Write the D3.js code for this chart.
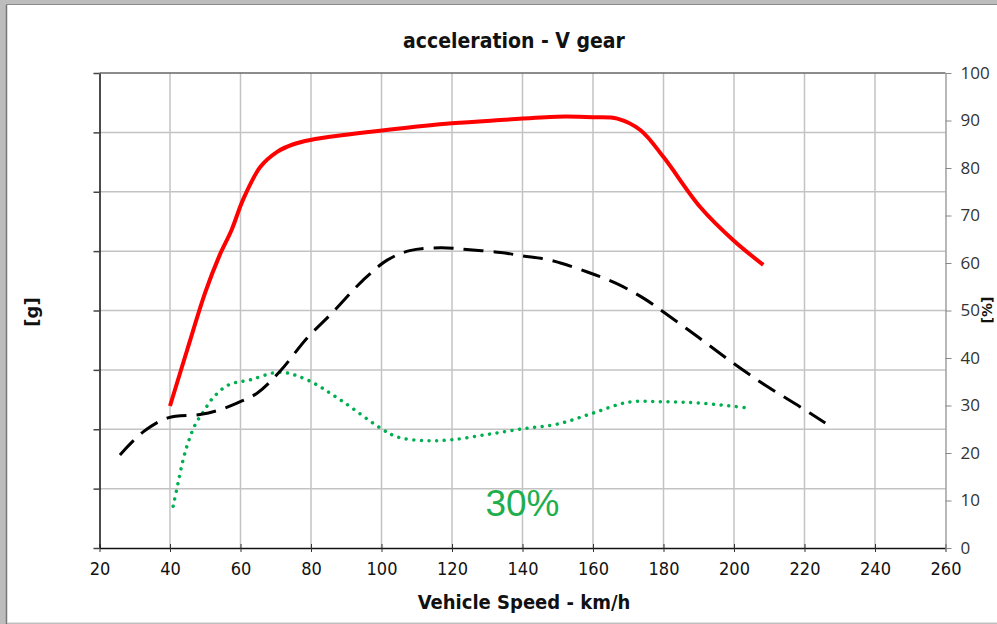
<!DOCTYPE html>
<html>
<head>
<meta charset="utf-8">
<script src="https://cdn.jsdelivr.net/npm/d3@7"></script>
<style>
  html, body { margin: 0; padding: 0; background: #b9b9b9; }
  #wrapper { width: 997px; height: 624px; }
  .narrow { font-family: "Liberation Sans Narrow", "DejaVu Sans Condensed", sans-serif; }
</style>
</head>
<body>
<div id="wrapper"></div>
<script>
// speed [km/h] vs. value on the right axis [%]
const fullLoad = [
  [40, 29.9], [45, 42], [50, 53.8], [54, 61.5], [57.5, 67], [60.7, 73.3], [65.6, 80.2],
  [70.4, 83.4], [75, 85], [79.8, 85.9], [90, 87], [102.5, 88.1], [120, 89.4],
  [133.8, 90.1], [149.9, 90.8], [160, 90.7], [166.9, 90.4], [173.4, 88.0],
  [180, 82.3], [190.4, 71.8], [199.8, 64.8], [208.3, 59.6]
]
const blackSeries = [
  [25.8, 19.6], [32.3, 24.4], [39.4, 27.4], [48.5, 28.1], [53.3, 28.9], [59, 30.5],
  [64.7, 32.6], [71.2, 37.2], [78.9, 44.2], [86, 49.5], [94.8, 56.4], [101.6, 60.6],
  [108, 62.6], [116.7, 63.2], [125, 62.8], [133.8, 62.2], [140, 61.5], [147.9, 60.6],
  [158.4, 58.1], [166.9, 55.6], [174.3, 52.6], [180, 49.7], [190, 44.3],
  [199.8, 38.9], [209, 34.2], [218.8, 29.7], [225.9, 26.3]
]
const greenSeries = [
  [40.9, 8.8], [42.3, 13.7], [43.7, 18.5], [45.1, 22.1], [47.1, 25.9], [49.4, 28.6],
  [52.2, 31.6], [56.5, 34.3], [62.7, 35.4], [71.2, 37.0], [78.9, 35.4], [88.3, 31.2],
  [99.6, 25.3], [104.4, 23.4], [112, 22.6], [120, 22.8], [130, 23.9], [140, 25.1],
  [150, 26.1], [160, 28.4], [170, 30.7], [180, 30.8], [190.5, 30.5], [203.8, 29.5]
]
const xTicks = [20, 40, 60, 80, 100, 120, 140, 160, 180, 200, 220, 240, 260]
const pctTicks = [0, 10, 20, 30, 40, 50, 60, 70, 80, 90, 100]
const gTicks = [0, 1, 2, 3, 4, 5, 6, 7, 8]   // left axis, labels not shown

const title = "acceleration - V gear"
const xLabel = "Vehicle Speed - km/h"
const yLabelLeft = "[g]"
const yLabelRight = "[%]"
const note = "30%"

const dimensions = {
  width: 997,
  height: 624,
  margin: { top: 73, right: 51.5, bottom: 76, left: 99.5 },
}
dimensions.boundedWidth = dimensions.width - dimensions.margin.left - dimensions.margin.right
dimensions.boundedHeight = dimensions.height - dimensions.margin.top - dimensions.margin.bottom

const wrapper = d3.select("#wrapper")
  .append("svg")
  .attr("width", dimensions.width)
  .attr("height", dimensions.height)

// frame
wrapper.append("rect").attr("x", 0).attr("y", 0).attr("width", 997).attr("height", 624).attr("fill", "#bdbdbd")
wrapper.append("rect").attr("x", 6).attr("y", 5).attr("width", 991).attr("height", 617).attr("fill", "white")
wrapper.append("line").attr("x1", 6.5).attr("x2", 6.5).attr("y1", 5).attr("y2", 624).attr("stroke", "#777").attr("stroke-width", 1.5)
wrapper.append("line").attr("x1", 6).attr("x2", 997).attr("y1", 4.5).attr("y2", 4.5).attr("stroke", "#8a8a8a").attr("stroke-width", 1)
wrapper.append("line").attr("x1", 7).attr("x2", 997).attr("y1", 622.5).attr("y2", 622.5).attr("stroke", "#e2e2e2").attr("stroke-width", 1)

const bounds = wrapper.append("g")
  .attr("transform", `translate(${dimensions.margin.left}, ${dimensions.margin.top})`)

const xScale = d3.scaleLinear().domain([20, 260]).range([0, dimensions.boundedWidth])
const yScale = d3.scaleLinear().domain([0, 100]).range([dimensions.boundedHeight, 0])
const gScale = d3.scaleLinear().domain([0, 8]).range([dimensions.boundedHeight, 0])

// grid
bounds.append("g")
  .selectAll("line.vgrid")
  .data(xTicks.slice(1, -1))
  .join("line")
  .attr("x1", d => xScale(d)).attr("x2", d => xScale(d))
  .attr("y1", 0).attr("y2", dimensions.boundedHeight)
  .attr("stroke", "#c3c3c3").attr("stroke-width", 1.5)

bounds.append("g")
  .selectAll("line.hgrid")
  .data(gTicks.slice(1, -1))
  .join("line")
  .attr("x1", 0).attr("x2", dimensions.boundedWidth)
  .attr("y1", d => gScale(d)).attr("y2", d => gScale(d))
  .attr("stroke", "#c3c3c3").attr("stroke-width", 1.5)

// top border of plot
bounds.append("line")
  .attr("x1", 0).attr("x2", dimensions.boundedWidth)
  .attr("y1", 0).attr("y2", 0)
  .attr("stroke", "#666").attr("stroke-width", 1.5)

// axes
const xAxis = bounds.append("g")
  .attr("transform", `translate(0, ${dimensions.boundedHeight})`)
  .call(d3.axisBottom(xScale).tickValues(xTicks).tickSize(5).tickSizeOuter(0))
xAxis.select(".domain").attr("stroke", "#111").attr("stroke-width", 1.5)
xAxis.selectAll(".tick line").attr("y1", -4).attr("y2", 4).attr("stroke", "#333")
xAxis.selectAll(".tick text")
  .attr("class", "narrow")
  .attr("y", 14)
  .attr("font-size", 18)
  .attr("fill", "#111")

const leftAxis = bounds.append("g")
  .call(d3.axisLeft(gScale).tickValues(gTicks).tickSize(6).tickSizeOuter(0).tickFormat(""))
leftAxis.select(".domain").attr("stroke", "#111").attr("stroke-width", 1.5)
leftAxis.selectAll(".tick line").attr("stroke", "#444").attr("stroke-width", 1.5)

const rightAxis = bounds.append("g")
  .attr("transform", `translate(${dimensions.boundedWidth}, 0)`)
  .call(d3.axisRight(yScale).tickValues(pctTicks).tickSize(6).tickSizeOuter(0))
rightAxis.select(".domain").attr("stroke", "#888").attr("stroke-width", 1.2)
rightAxis.selectAll(".tick line").attr("stroke", "#888")
rightAxis.selectAll(".tick text")
  .attr("x", 15)
  .attr("font-family", "'Open Sans', sans-serif")
  .attr("font-size", 17)
  .attr("fill", "#333")

// series
const lineGenerator = d3.line()
  .x(d => xScale(d[0]))
  .y(d => yScale(d[1]))
  .curve(d3.curveCatmullRom.alpha(0.5))

bounds.append("path")
  .attr("d", lineGenerator(greenSeries))
  .attr("fill", "none")
  .attr("stroke", "#00b050")
  .attr("stroke-width", 3.5)
  .attr("stroke-linecap", "round")
  .attr("stroke-dasharray", "0.01 7.6")

bounds.append("path")
  .attr("d", lineGenerator(blackSeries))
  .attr("fill", "none")
  .attr("stroke", "#000")
  .attr("stroke-width", 3)
  .attr("stroke-dasharray", "20 10")

bounds.append("path")
  .attr("d", lineGenerator(fullLoad))
  .attr("fill", "none")
  .attr("stroke", "#ff0000")
  .attr("stroke-width", 4)

// texts
wrapper.append("text")
  .attr("class", "narrow")
  .attr("x", 514)
  .attr("y", 48)
  .attr("text-anchor", "middle")
  .attr("font-size", 21)
  .attr("font-weight", "bold")
  .attr("fill", "#111")
  .text(title)

wrapper.append("text")
  .attr("class", "narrow")
  .attr("x", 524)
  .attr("y", 609)
  .attr("text-anchor", "middle")
  .attr("font-size", 20)
  .attr("font-weight", "bold")
  .attr("fill", "#111")
  .text(xLabel)

wrapper.append("text")
  .attr("transform", "translate(38, 312) rotate(-90)")
  .attr("text-anchor", "middle")
  .attr("font-family", "'DejaVu Sans', sans-serif")
  .attr("font-size", 18)
  .attr("font-weight", "bold")
  .attr("fill", "#111")
  .text(yLabelLeft)

wrapper.append("text")
  .attr("transform", "translate(992, 310) rotate(-90)")
  .attr("text-anchor", "middle")
  .attr("font-family", "'DejaVu Sans', sans-serif")
  .attr("font-size", 14)
  .attr("font-weight", "bold")
  .attr("fill", "#111")
  .text(yLabelRight)

bounds.append("text")
  .attr("x", xScale(140))
  .attr("y", yScale(6.7))
  .attr("text-anchor", "middle")
  .attr("font-family", "'Liberation Sans', sans-serif")
  .attr("font-size", 37)
  .attr("fill", "#1fae4e")
  .text(note)
</script>
</body>
</html>
